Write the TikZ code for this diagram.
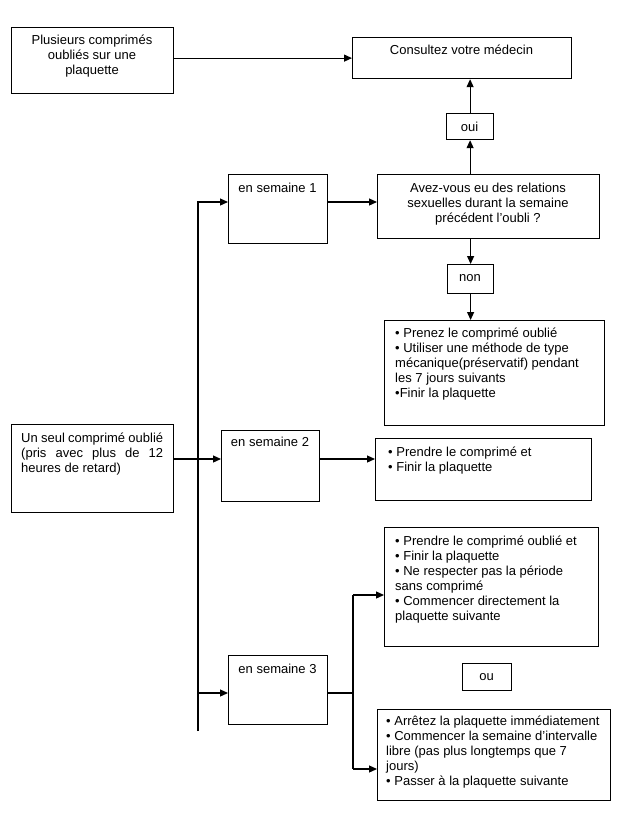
\documentclass[tikz,border=0pt]{standalone}
\usepackage{fontspec}
\setmainfont{Liberation Sans}
\usetikzlibrary{arrows.meta}
\begin{document}
\begin{tikzpicture}[x=1pt,y=-1pt,
 box/.style={draw, line width=1.2pt, inner sep=0pt, anchor=north west},
 txt/.style={inner sep=0pt, font=\fontsize{13}{15}\selectfont},
 arr/.style={line width=1.2pt, -{Triangle[length=8pt,width=7pt]}},
 ln/.style={line width=1.2pt}]
\useasboundingbox[fill=white] (0,0) rectangle (618,836);
% boxes
\node[box, minimum width=162pt, minimum height=66pt] (P) at (11,27) {};
\node[box, minimum width=219pt, minimum height=41pt] (C) at (352,37) {};
\node[box, minimum width=47pt, minimum height=26pt] (oui) at (446,113) {};
\node[box, minimum width=99pt, minimum height=69pt] (S1) at (228,174) {};
\node[box, minimum width=222pt, minimum height=64pt] (A) at (377,174) {};
\node[box, minimum width=46pt, minimum height=29pt] (non) at (447,264) {};
\node[box, minimum width=220pt, minimum height=105pt] (Pz) at (384,320) {};
\node[box, minimum width=162pt, minimum height=88pt] (U) at (11,424) {};
\node[box, minimum width=98pt, minimum height=71pt] (S2) at (221,430) {};
\node[box, minimum width=216pt, minimum height=62pt] (Pr2) at (375,438) {};
\node[box, minimum width=214pt, minimum height=119pt] (Q1) at (384,527) {};
\node[box, minimum width=99pt, minimum height=69pt] (S3) at (228,655) {};
\node[box, minimum width=49pt, minimum height=27pt] (ou) at (462,663) {};
\node[box, minimum width=233pt, minimum height=91pt] (Q2) at (377,709) {};
% texts
\node[txt, anchor=north, align=center] (Pt) at (92,34) {\rule{0pt}{10pt}Plusieurs comprimés\\oubliés sur une\\plaquette};
\node[txt, anchor=base] (Ct) at (461.5,54) {Consultez votre médecin};
\node[txt, anchor=base] (ouit) at (469.5,131.5) {oui};
\node[txt, anchor=base] (S1t) at (277.5,192) {en semaine 1};
\node[txt, anchor=north, align=center] (At) at (488,182) {\rule{0pt}{10pt}Avez-vous eu des relations\\sexuelles durant la semaine\\précédent l'oubli ?};
\node[txt, anchor=base] (nont) at (470,281) {non};
\node[txt, anchor=north west, align=left] (Pzt) at (395,327) {\rule{0pt}{10pt}• Prenez le comprimé oublié\\• Utiliser une méthode de type\\mécanique(préservatif) pendant\\les 7 jours suivants\\•Finir la plaquette};
\node[txt, anchor=north west, text width=142pt, align=justify] (Ut) at (21,432) {\rule{0pt}{10pt}Un seul comprimé oublié\linebreak (pris avec plus de 12\linebreak heures de retard)};
\node[txt, anchor=base] (S2t) at (270,446) {en semaine 2};
\node[txt, anchor=north west, align=left] (Pr2t) at (388,446) {\rule{0pt}{10pt}• Prendre le comprimé et\\• Finir la plaquette};
\node[txt, anchor=north west, align=left] (Q1t) at (395,535) {\rule{0pt}{10pt}• Prendre le comprimé oublié et\\• Finir la plaquette\\• Ne respecter pas la période\\sans comprimé\\• Commencer directement la\\plaquette suivante};
\node[txt, anchor=base] (S3t) at (277.5,673) {en semaine 3};
\node[txt, anchor=base] (out) at (486.5,680) {ou};
\node[txt, anchor=north west, align=left] (Q2t) at (386,715) {\rule{0pt}{10pt}• Arrêtez la plaquette immédiatement\\• Commencer la semaine d'intervalle\\libre (pas plus longtemps que 7\\jours)\\• Passer à la plaquette suivante};
% connectors
\coordinate (r1) at (0,202);
\coordinate (r2) at (0,459);
\coordinate (r3) at (0,693);
\coordinate (tTop) at (198,202);
\coordinate (tBot) at (198,731);
\coordinate (b1) at (353,595);
\coordinate (b2) at (353,769);
\draw[arr] (P.east |- C.west) -- (C.west);
\draw[arr] (oui.north) -- (oui.north |- C.south);
\draw[arr] (A.north -| oui) -- (oui.south);
\draw[arr] (A.south -| non) -- (non.north);
\draw[arr] (non.south) -- (non.south |- Pz.north);
\draw[arr] (S1.east |- r1) -- (A.west |- r1);
\draw[arr] (tBot) -- (tTop) -- (S1.west |- tTop);
\draw[arr] (U.east |- r2) -- (S2.west |- r2);
\draw[arr] (S2.east |- r2) -- (Pr2.west |- r2);
\draw[arr] (tTop |- r3) -- (S3.west |- r3);
\draw[ln] (S3.east |- r3) -- (b1 |- r3);
\draw[ln] (b1) -- (b2);
\draw[arr] (b1) -- (Q1.west |- b1);
\draw[arr] (b2) -- (Q2.west |- b2);
\end{tikzpicture}
\end{document}
